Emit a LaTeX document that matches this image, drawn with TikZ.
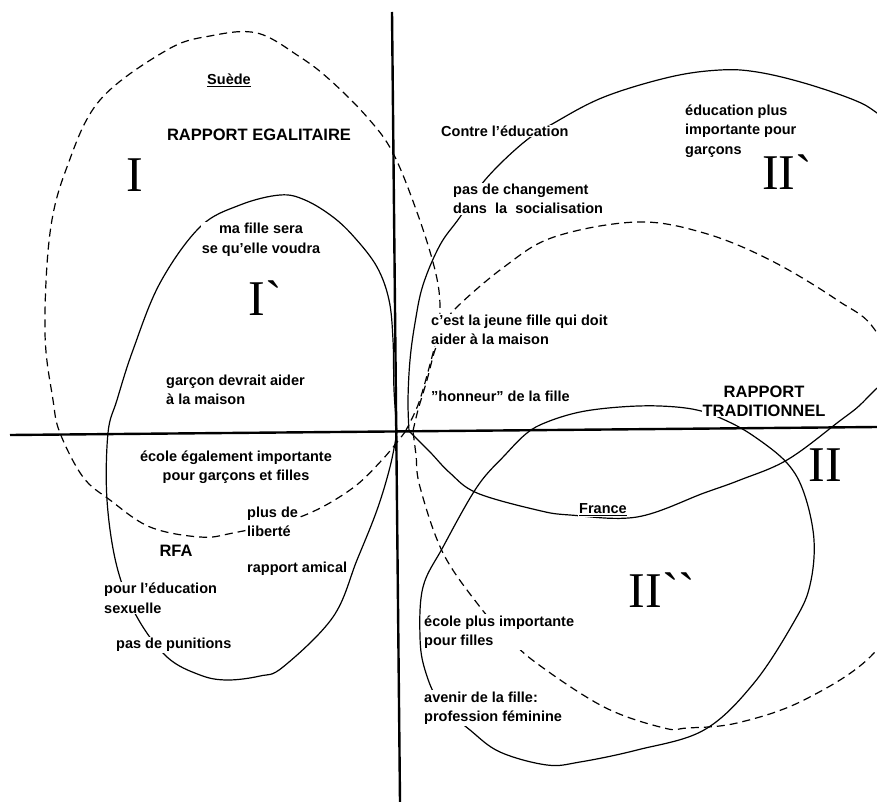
\documentclass[tikz,border=0pt]{standalone}
\usepackage{fontspec}
\newfontfamily\labf{Liberation Sans}
\newfontfamily\romf{Liberation Serif}
\begin{document}
\begin{tikzpicture}[x=1pt,y=-1pt,
  lbl/.style={font=\labf\bfseries\fontsize{14.5}{19.5}\selectfont, inner sep=1pt, fill=white, align=left},
  capl/.style={font=\labf\bfseries\fontsize{16.5}{19}\selectfont, inner sep=1pt, fill=white, align=center},
  roman/.style={font=\romf\fontsize{50}{50}\selectfont, inner sep=0pt},
  solidc/.style={line width=1.2pt, line join=round},
  dashc/.style={line width=1.2pt, dash pattern=on 8pt off 5pt},
  axisl/.style={line width=2.4pt}]
\useasboundingbox (0,0) rectangle (877,802);
\fill[white] (0,0) rectangle (877,802);

\begin{scope}
\clip (0,0) rectangle (877,802);
% Suede dashed loop (I)
\draw[dashc] plot[smooth, tension=0.6] coordinates {
 (405,432) (418,405) (429,368) (437,335) (440,305) (435,270) (418,215) (393,153)
 (367,117) (330,80) (300,57) (257,33) (210,36) (167,50) (100,100) (67,167)
 (50,233) (45,333) (53,400) (60,433) (83,477) (110,500) (150,527) (200,537)
 (233,533) (300,517) (350,490) (382,460) (405,432)};
% I' solid loop
\draw[solidc] plot[smooth, tension=0.6] coordinates {
 (397,432) (394,390) (393,340) (389,300) (377,267) (355,238) (333,217) (305,200)
 (280,195) (240,205) (200,227) (160,283) (133,350) (117,400) (108,433) (107,500)
 (117,567) (137,617) (167,657) (200,675) (227,680) (260,676) (283,667) (333,617)
 (357,560) (377,510) (390,467) (397,432)};
% II' solid loop
\draw[solidc] plot[smooth, tension=0.6] coordinates {
 (409,431) (408,400) (410,360) (415,323) (423,285) (440,245) (460,217) (485,180)
 (523,143) (554,123) (604,97) (670,77) (720,70) (757,72) (804,83) (854,100)
 (877,113) (910,140) (930,250) (905,350) (867,398) (837,423) (787,460) (740,480)
 (704,493) (637,517) (570,515) (537,510) (477,493) (450,473) (430,452) (409,431)};
% II dashed loop
\draw[dashc] plot[smooth, tension=0.6] coordinates {
 (413,431) (418,410) (427,380) (435,350) (445,328) (454,310) (504,267) (554,237)
 (637,222) (704,233) (770,260) (837,300) (877,333) (915,420) (915,580) (874,653)
 (804,700) (737,723) (687,728) (664,728) (604,707) (535,662) (504,633) (480,607)
 (443,553) (420,487) (416,455) (413,431)};
% II'' solid loop
\draw[solidc] plot[smooth cycle, tension=0.6] coordinates {
 (527,433) (547,422) (580,412) (620,407) (660,406) (697,410) (727,421) (755,437)
 (787,463) (804,493) (814,540) (810,585) (795,620) (754,683) (704,730) (637,750)
 (580,762) (547,765) (500,752) (470,730) (440,703) (425,670) (420,637) (423,587)
 (443,547) (477,487) (505,455)};
\end{scope}

% axes
\coordinate (vt) at (392,12);
\coordinate (vb) at (400,802);
\coordinate (hl) at (10,435);
\coordinate (hr) at (877,427);
\draw[axisl] (vt) -- (vb);
\draw[axisl] (hl) -- (hr);

% labels
\node[lbl, anchor=center] (suede) at (229,80) {\underline{Suède}};
\node[capl] (egal) at (259,135) {RAPPORT EGALITAIRE};
\node[lbl, align=center] (mafille) at (261,240) {ma fille sera\\se qu’elle voudra};
\node[lbl, anchor=west] (garcon) at (165,390) {garçon devrait aider\\à la maison};
\node[lbl, anchor=west] (contre) at (440,131) {Contre l’éducation};
\node[lbl, anchor=west] (eduplus) at (684,131) {éducation plus\\importante pour\\garçons};
\node[lbl, anchor=west] (paschg) at (452,199) {pas de changement\\dans~ la~ socialisation};
\node[lbl, anchor=west] (jeune) at (430,330) {c’est la jeune fille qui doit\\aider à la maison};
\node[lbl, anchor=west] (honneur) at (430,396) {”honneur” de la fille};
\node[capl] (trad) at (764,401) {RAPPORT\\TRADITIONNEL};
\node[lbl, anchor=center] (france) at (603,510) {\underline{France}};
\node[lbl, anchor=west] (ecoleplus) at (423,632) {école plus importante\\pour filles};
\node[lbl, anchor=west] (avenir) at (423,708) {avenir de la fille:\\profession féminine};
\node[lbl, align=center] (ecoleeg) at (236,467) {école également importante\\pour garçons et filles};
\node[lbl, anchor=west] (liberte) at (246,522) {plus de\\liberté};
\node[capl] (rfa) at (176,551) {RFA};
\node[lbl, anchor=west] (amical) at (246,569) {rapport amical};
\node[lbl, anchor=west] (sexu) at (103,598) {pour l’éducation\\sexuelle};
\node[lbl, anchor=west] (punit) at (115,645) {pas de punitions};

% roman numerals
\node[roman] (rI) at (135,175) {I};
\node[roman] (rIp) at (265,298) {I\symbol{96}};
\node[roman] (rIIp) at (787,172) {II\symbol{96}};
\node[roman] (rII) at (825,465) {II};
\node[roman] (rIIpp) at (662,590) {II\symbol{96}\symbol{96}};
\end{tikzpicture}
\end{document}
